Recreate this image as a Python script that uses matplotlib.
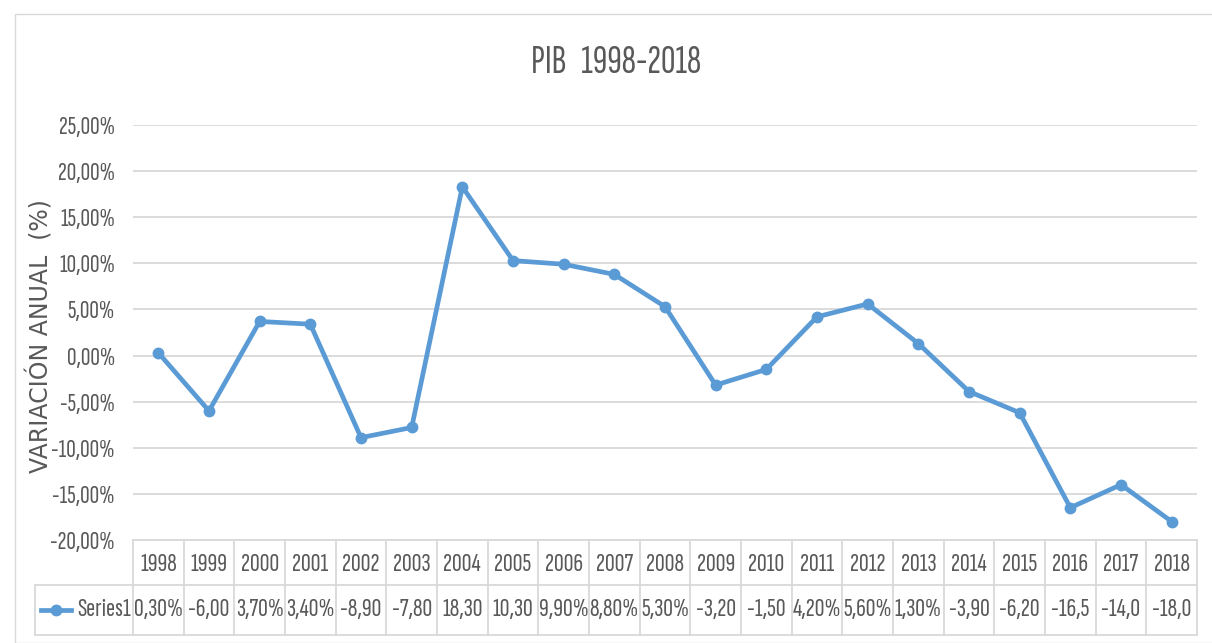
import matplotlib.pyplot as plt
from matplotlib.patches import Rectangle

years = ['1998', '1999', '2000', '2001', '2002', '2003', '2004', '2005', '2006', '2007', '2008',
         '2009', '2010', '2011', '2012', '2013', '2014', '2015', '2016', '2017', '2018']
pib = [0.3, -6.0, 3.7, 3.4, -8.9, -7.8, 18.3, 10.3, 9.9, 8.8, 5.3,
       -3.2, -1.5, 4.2, 5.6, 1.3, -3.9, -6.2, -16.5, -14.0, -18.0]
# text as shown in the data table (cells are cut off in the original)
table_labels = ['0,30%', '-6,00', '3,70%', '3,40%', '-8,90', '-7,80', '18,30', '10,30', '9,90%', '8,80%', '5,30%',
                '-3,20', '-1,50', '4,20%', '5,60%', '1,30%', '-3,90', '-6,20', '-16,5', '-14,0', '-18,0']
y_ticks = [-20, -15, -10, -5, 0, 5, 10, 15, 20, 25]

blue = '#5B9BD5'
text_col = '#595959'
grid_col = '#D9D9D9'
narrow = ['Sofia Sans Extra Condensed', 'DejaVu Sans']

fig = plt.figure(figsize=(12.12, 6.43), dpi=100)
fig.patches.append(Rectangle((15 / 1212, 0), 1.0, 1 - 14 / 643, transform=fig.transFigure,
                             fill=False, edgecolor=grid_col, linewidth=1))
ax = fig.add_axes([133 / 1212, 1 - 540 / 643, 1064 / 1212, 415 / 643])

x = list(range(len(years)))
ax.plot(x, pib, color=blue, linewidth=3.4, marker='o', markersize=7.5, zorder=3)

ax.set_xlim(-0.5, len(years) - 0.5)
ax.set_ylim(-20, 25)
ax.set_yticks(y_ticks)
ax.set_yticklabels([f'{v},00%' for v in y_ticks], fontsize=19, color=text_col, family=narrow)
ax.set_xticks([])
ax.tick_params(axis='y', length=0, pad=13)
ax.grid(axis='y', color=grid_col, linewidth=1.3)
ax.set_axisbelow(True)
for s in ax.spines.values():
    s.set_visible(False)

fig.text(40 / 1212, 1 - 336 / 643, 'VARIACIÓN ANUAL  (%)', rotation=90, ha='center', va='center',
         fontsize=17, color=text_col)
fig.text(616 / 1212, 1 - 63 / 643, 'PIB   1998-2018', ha='center', va='center', fontsize=29,
         color=text_col, family=narrow)

# data table below the plot
tr = ax.get_xaxis_transform()
y_top, y_mid, y_bot = 0.0, -0.108, -0.229
left = -0.5 - 98 / (1064 / len(years))
n = len(years)
ax.plot([-0.5, n - 0.5], [y_top, y_top], transform=tr, color=grid_col, lw=1.3, clip_on=False)
ax.plot([left, n - 0.5], [y_mid, y_mid], transform=tr, color=grid_col, lw=1.3, clip_on=False)
ax.plot([left, n - 0.5], [y_bot, y_bot], transform=tr, color=grid_col, lw=1.3, clip_on=False)
ax.plot([left, left], [y_mid, y_bot], transform=tr, color=grid_col, lw=1.3, clip_on=False)
for i in range(n + 1):
    ax.plot([i - 0.5, i - 0.5], [y_top, y_bot], transform=tr, color=grid_col, lw=1.3, clip_on=False)
for i in range(n):
    ax.text(i, -0.058, years[i], transform=tr, ha='center', va='center', fontsize=19.5,
            color=text_col, family=narrow)
    ax.text(i, -0.168, table_labels[i], transform=tr, ha='center', va='center', fontsize=19.5,
            color=text_col, family=narrow)

# legend key in the table
ax.plot([left + 0.12, left + 0.72], [-0.168, -0.168], transform=tr, color=blue, lw=3.4, clip_on=False)
ax.plot([left + 0.42], [-0.168], transform=tr, color=blue, marker='o', markersize=7.5, clip_on=False)
ax.text(-0.54, -0.168, 'Series1', transform=tr, ha='right', va='center', fontsize=19.5,
        color=text_col, family=narrow)

fig.savefig('out.png', dpi=100)
